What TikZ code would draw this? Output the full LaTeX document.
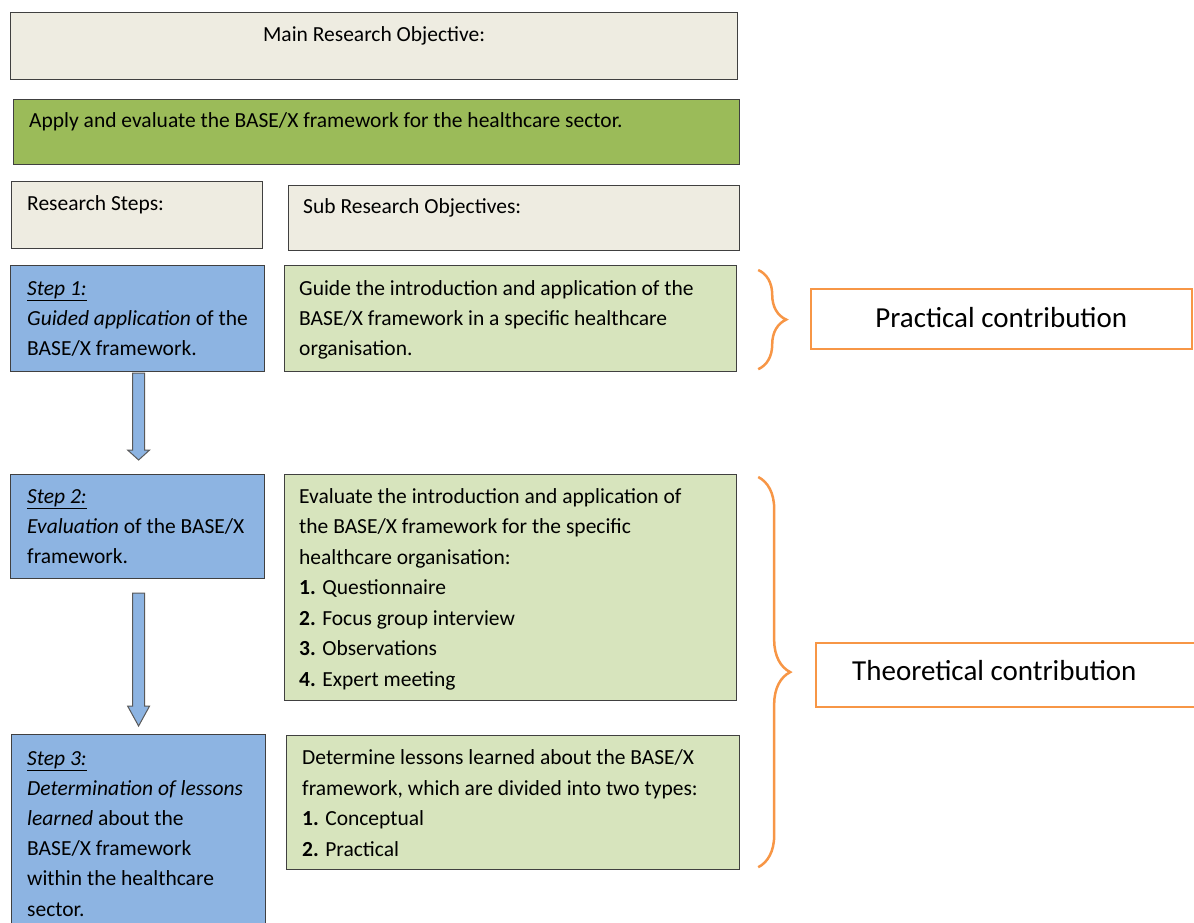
\documentclass[tikz,border=0pt]{standalone}
\usepackage{fontspec}
\setmainfont{Carlito}
\usetikzlibrary{positioning,calc,decorations.pathreplacing}
\definecolor{mrbeige}{RGB}{238,236,225}
\definecolor{mrgreen}{RGB}{155,187,89}
\definecolor{mrblue}{RGB}{141,180,226}
\definecolor{mrpale}{RGB}{215,228,189}
\definecolor{mrorange}{RGB}{247,150,70}

\tikzset{
  box/.style={draw=black!75, line width=1.2pt, anchor=north west, inner sep=0pt},
  txt/.style={anchor=base west, inner sep=0pt, align=left, font=\fontsize{21.5}{30}\selectfont},
  bigtxt/.style={inner sep=0pt, font=\fontsize{29}{32}\selectfont},
  contrib/.style={draw=mrorange, line width=1.5pt, anchor=north west, inner sep=0pt},
  orangebrace/.style={draw=mrorange, line width=2.5pt, decorate, decoration={brace, amplitude=#1}},
  flowarrow/.style={draw=black!65, fill=mrblue, line width=1pt}
}

\begin{document}
\begin{tikzpicture}[x=1pt,y=-1pt]
\useasboundingbox (0,0) rectangle (1194,922);
\clip (0,0) rectangle (1194,922);

% Objective
\node[box, fill=mrbeige, minimum width=727pt, minimum height=67pt] (main) at (10,12) {};
\node[txt, anchor=base] (maintxt) at ($(main.north)+(0,29)$) {Main Research Objective:};
\node[box, fill=mrgreen, minimum width=726pt, minimum height=65pt] (apply) at (13,99) {};
\node[txt] (applytxt) at ($(apply.north west)+(16,28)$) {Apply and evaluate the BASE/X framework for the healthcare sector.};

% Column heads
\node[box, fill=mrbeige, minimum width=251pt, minimum height=67pt] (steps) at (11,181) {};
\node[txt] (stepstxt) at ($(steps.north west)+(16,29)$) {Research Steps:};
\node[box, fill=mrbeige, minimum width=451pt, minimum height=65pt] (subobj) at (288,185) {};
\node[txt] (subobjtxt) at ($(subobj.north west)+(15,28)$) {Sub Research Objectives:};

% Steps (base = last line)
\node[box, fill=mrblue, minimum width=254pt, minimum height=106pt] (s1) at (10,265) {};
\node[txt] (s1txt) at ($(s1.north west)+(17,90)$) {\underline{\textit{Step 1:}}\\\textit{Guided application} of the\\BASE/X framework.};
\node[box, fill=mrblue, minimum width=254pt, minimum height=104pt] (s2) at (10,474) {};
\node[txt] (s2txt) at ($(s2.north west)+(17,89)$) {\underline{\textit{Step 2:}}\\\textit{Evaluation} of the BASE/X\\framework.};
\node[box, fill=mrblue, minimum width=254pt, minimum height=200pt] (s3) at (11,734) {};
\node[txt, font=\fontsize{21.5}{30.2}\selectfont] (s3txt) at ($(s3.north west)+(16,182)$) {\underline{\textit{Step 3:}}\\\textit{Determination of lessons}\\\textit{learned} about the\\BASE/X framework\\within the healthcare\\sector.};

% Sub objectives
\node[box, fill=mrpale, minimum width=452pt, minimum height=106pt] (g1) at (284,265) {};
\node[txt] (g1txt) at ($(g1.north west)+(15,90)$) {Guide the introduction and application of the\\BASE/X framework in a specific healthcare\\organisation.};
\node[box, fill=mrpale, minimum width=452pt, minimum height=226pt] (g2) at (284,474) {};
\node[txt, font=\fontsize{21.5}{30.5}\selectfont] (g2txt) at ($(g2.north west)+(15,212)$) {Evaluate the introduction and application of\\the BASE/X framework for the specific\\healthcare organisation:\\\textbf{1.} Questionnaire\\\textbf{2.} Focus group interview\\\textbf{3.} Observations\\\textbf{4.} Expert meeting};
\node[box, fill=mrpale, minimum width=453pt, minimum height=134pt] (g3) at (286,735) {};
\node[txt, font=\fontsize{21.5}{30.4}\selectfont] (g3txt) at ($(g3.north west)+(16,121)$) {Determine lessons learned about the BASE/X\\framework, which are divided into two types:\\\textbf{1.} Conceptual\\\textbf{2.} Practical};

% Arrows between steps
\draw[flowarrow] ($(s1.south)+(-5,1)$) -- ($(s1.south)+(7,1)$) -- ($(s2.north)+(7,-24)$) -- ($(s2.north)+(12,-24)$)
  -- ($(s2.north)+(1,-14)$) -- ($(s2.north)+(-10,-24)$) -- ($(s2.north)+(-5,-24)$) -- cycle;
\draw[flowarrow] ($(s2.south)+(-5,14)$) -- ($(s2.south)+(7,14)$) -- ($(s3.north)+(6,-28)$) -- ($(s3.north)+(11,-28)$)
  -- ($(s3.north)+(0,-8)$) -- ($(s3.north)+(-11,-28)$) -- ($(s3.north)+(-6,-28)$) -- cycle;

% Contributions
\draw[orangebrace=28pt] ($(g1.north east)+(21,5)$) -- ($(g1.south east)+(21,-3)$);
\draw[orangebrace=32pt] ($(g2.north east)+(21,3)$) -- ($(g3.south east)+(18,-3)$);
\node[contrib, minimum width=381pt, minimum height=60pt] (prac) at (810,288) {};
\node[bigtxt, anchor=base] (practxt) at ($(prac.north)+(0,39)$) {Practical contribution};
\node[contrib, minimum width=400pt, minimum height=64pt] (theo) at (815,642) {};
\node[bigtxt, anchor=base west] (theotxt) at ($(theo.north west)+(37,38)$) {Theoretical contribution};
\end{tikzpicture}
\end{document}
